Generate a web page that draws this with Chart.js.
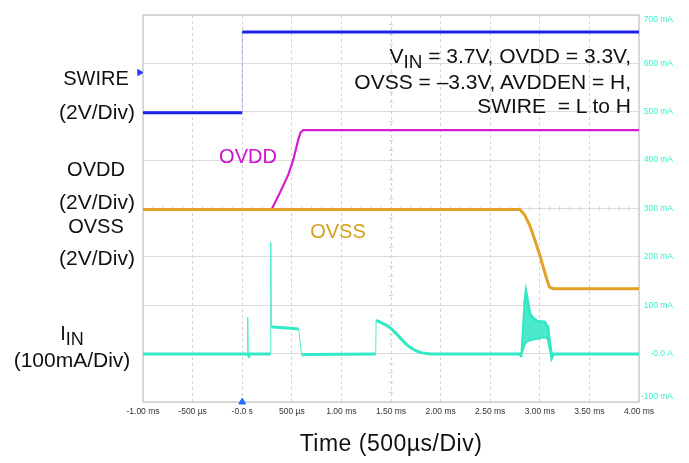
<!DOCTYPE html>
<html>
<head>
<meta charset="utf-8">
<script src="https://cdn.jsdelivr.net/npm/chart.js@4.4.1/dist/chart.umd.min.js"></script>
<style>
  html, body { margin: 0; padding: 0; background: #fff; }
  #wrap { position: relative; width: 689px; height: 463px; overflow: hidden; font-family: "Liberation Sans", Arial, sans-serif; color: #111; }
  canvas { position: absolute; left: 0; top: 0; }
  .t { position: absolute; white-space: nowrap; font-size: 20px; line-height: 22px; transform: translate(-50%, -50%); }
  .d { font-size: 21px; }
  .r { position: absolute; white-space: nowrap; font-size: 21px; line-height: 24.5px; text-align: right; }
  .sub { font-size: 0.9em; position: relative; top: 0.25em; }
</style>
</head>
<body>
<div id="wrap">
  <canvas id="c" width="689" height="463"></canvas>
  <div class="t" style="left:96px; top:78px;">SWIRE</div>
  <div class="t d" style="left:97px; top:112px;">(2V/Div)</div>
  <div class="t" style="left:96px; top:169px;">OVDD</div>
  <div class="t d" style="left:97px; top:202px;">(2V/Div)</div>
  <div class="t" style="left:96px; top:226px;">OVSS</div>
  <div class="t d" style="left:97px; top:258px;">(2V/Div)</div>
  <div class="t" style="left:72px; top:333px;">I<span class="sub">IN</span></div>
  <div class="t d" style="left:72px; top:360px;">(100mA/Div)</div>
  <div class="t" style="left:248px; top:156px; color:#cc10cc;">OVDD</div>
  <div class="t" style="left:338px; top:231px; color:#d4a020;">OVSS</div>
  <div class="r" style="right:58px; top:44px;">V<span class="sub">IN</span> = 3.7V, OVDD = 3.3V,<br>OVSS = –3.3V, AVDDEN = H,<br>SWIRE &nbsp;= L to H</div>
  <div class="t" style="left:391px; top:443px; font-size:23px; letter-spacing:0.5px;">Time (500µs/Div)</div>
</div>
<script>
// ---- Data (y values in "mA" screen units of the right axis) ----
const xTickLabels = ['-1.00 ms', '-500 µs', '-0.0 s', '500 µs', '1.00 ms', '1.50 ms', '2.00 ms', '2.50 ms', '3.00 ms', '3.50 ms', '4.00 ms'];
const yTickLabels = ['-100 mA', '-0.0 A', '100 mA', '200 mA', '300 mA', '400 mA', '500 mA', '600 mA', '700 mA'];

const swireTime  = [-1.0, 0.0, 0.0, 4.0];
const swireValue = [498, 498, 665, 665];

const ovddTime  = [-1.0, 0.297, 0.381, 0.465, 0.515, 0.566, 0.590, 0.615, 4.0];
const ovddValue = [298, 298, 333, 370, 401, 443, 458, 462, 462];

const ovssTime  = [-1.0, 2.80, 2.85, 2.901, 2.95, 3.002, 3.07, 3.096, 3.136, 4.0];
const ovssValue = [298, 298, 286, 264, 235, 202, 154, 138, 134, 134];

const iinTime  = [-1.0, 0.050, 0.056, 0.060, 0.066, 0.284, 0.288, 0.294, 0.31, 0.45, 0.57, 0.585, 0.60, 0.63,
                  1.346, 1.350, 1.40, 1.45, 1.50, 1.55, 1.60, 1.65, 1.70, 1.75, 1.80, 1.90,
                  2.805, 2.815, 2.83, 2.845, 2.861, 2.88, 2.90, 2.93, 2.97, 3.01, 3.05, 3.08, 3.10, 3.12, 3.135, 4.0];
const iinValue = [-1, -1, 75, -6, -1, -1, 230, 56, 55, 53, 51, 20, -3, -2,
                  -1, 69, 64, 59, 52, 42, 31, 20, 12, 6, 2, -1,
                  -1, -7, 50, 100, 126, 104, 82, 74, 67, 66, 65, 55, 20, -8, -1, -1];

const burstTime  = [2.815, 2.83, 2.845, 2.861, 2.88, 2.90, 2.93, 2.97, 3.01, 3.05, 3.08, 3.10, 3.12];
const burstUpper = [0, 50, 100, 126, 104, 82, 74, 67, 66, 65, 55, 20, 0];
const burstLower = [0, 8, 18, 24, 26, 27, 29, 30, 32, 34, 30, 10, 0];

const markerTime  = [0.0];
const markerValue = [-100];
const sideMarkerTime  = [-1.035];
const sideMarkerValue = [581];

// ---- Helpers ----
const pts = (t, v) => t.map((x, i) => ({ x: x, y: v[i] }));
const steep = ctx => Math.abs(ctx.p1.x - ctx.p0.x) < 1.5 && Math.abs(ctx.p1.y - ctx.p0.y) > 8;
const lineDs = (label, t, v, color, width, thinColor) => ({
  label: label, data: pts(t, v), borderColor: color, borderWidth: width,
  pointRadius: 0, tension: 0, fill: false,
  segment: {
    borderWidth: ctx => steep(ctx) ? 1 : undefined,
    borderColor: ctx => steep(ctx) ? thinColor : undefined
  }
});

const IIN_C = '#33e8c4';
const TICK_FONT = { family: '"Liberation Sans Narrow", "Liberation Sans", Arial', size: 8.5 };

const datasets = [
  { label: 'trigger', data: pts(markerTime, markerValue), showLine: false, pointStyle: 'triangle',
    pointRadius: 4, backgroundColor: '#2a6fff', borderColor: '#2a6fff', clip: false },
  { label: 'swire marker', data: pts(sideMarkerTime, sideMarkerValue), showLine: false, pointStyle: 'triangle',
    pointRotation: 90, pointRadius: 3.5, backgroundColor: '#2a3cff', borderColor: '#2a3cff', clip: false },
  lineDs('IIN', iinTime, iinValue, IIN_C, 3, 'rgba(51,232,196,0.85)'),
  { label: 'IIN lower', data: pts(burstTime, burstLower), borderColor: IIN_C, borderWidth: 2,
    pointRadius: 0, tension: 0, fill: false },
  { label: 'IIN upper', data: pts(burstTime, burstUpper), borderColor: IIN_C, borderWidth: 2,
    pointRadius: 0, tension: 0, fill: '-1', backgroundColor: 'rgba(56,232,196,0.9)' },
  lineDs('OVSS', ovssTime, ovssValue, '#e2a22a', 3, '#e2a22a'),
  lineDs('OVDD', ovddTime, ovddValue, '#d21ed2', 2.2, '#d21ed2'),
  lineDs('SWIRE', swireTime, swireValue, '#1c22e6', 3, 'rgba(120,130,255,0.5)')
];

const framePlugin = {
  id: 'frame',
  beforeDatasetsDraw(chart) {
    const { ctx, chartArea: a, scales } = chart;
    const xs = scales.x, ys = scales.y;
    ctx.save();
    ctx.strokeStyle = '#cfcfcf';
    ctx.lineWidth = 1.5;
    ctx.strokeRect(a.left, a.top, a.right - a.left, a.bottom - a.top);
    // centre-line minor ticks
    ctx.strokeStyle = '#cfcfcf';
    ctx.lineWidth = 1;
    const yc = ys.getPixelForValue(300);
    for (let i = 0; i <= 50; i++) {
      const px = xs.getPixelForValue(-1 + i * 0.1);
      ctx.beginPath(); ctx.moveTo(px, yc - 2); ctx.lineTo(px, yc + 2); ctx.stroke();
    }
    const xc = xs.getPixelForValue(1.5);
    for (let i = 0; i <= 40; i++) {
      const py = ys.getPixelForValue(-100 + i * 20);
      ctx.beginPath(); ctx.moveTo(xc - 2, py); ctx.lineTo(xc + 2, py); ctx.stroke();
    }
    ctx.restore();
  }
};

new Chart(document.getElementById('c'), {
  type: 'line',
  data: { datasets: datasets },
  options: {
    responsive: false,
    animation: false,
    layout: { padding: { left: 143, top: 15, right: 16, bottom: 0 } },
    plugins: { legend: { display: false }, tooltip: { enabled: false } },
    scales: {
      x: {
        type: 'linear', min: -1, max: 4,
        afterFit: s => { s.height = 61; },
        ticks: {
          stepSize: 0.5, autoSkip: false, maxRotation: 0, padding: 5,
          color: '#333', font: TICK_FONT,
          callback: (v, i) => xTickLabels[i]
        },
        grid: { color: '#d2d2d2', lineWidth: 1, drawTicks: false },
        border: { display: false, dash: [3, 3] }
      },
      y: {
        type: 'linear', position: 'right', min: -100, max: 700,
        afterFit: s => { s.width = 34; },
        ticks: {
          stepSize: 100, crossAlign: 'far', padding: 4,
          color: '#3cf0cc', font: TICK_FONT,
          callback: (v, i, all) => {
            const lab = yTickLabels[i];
            if (i === 0) return [lab, ''];
            if (i === all.length - 1) return ['', lab];
            return lab;
          }
        },
        grid: { color: '#dcdcdc', lineWidth: 1, drawTicks: false },
        border: { display: false }
      }
    }
  },
  plugins: [framePlugin]
});
</script>
</body>
</html>
